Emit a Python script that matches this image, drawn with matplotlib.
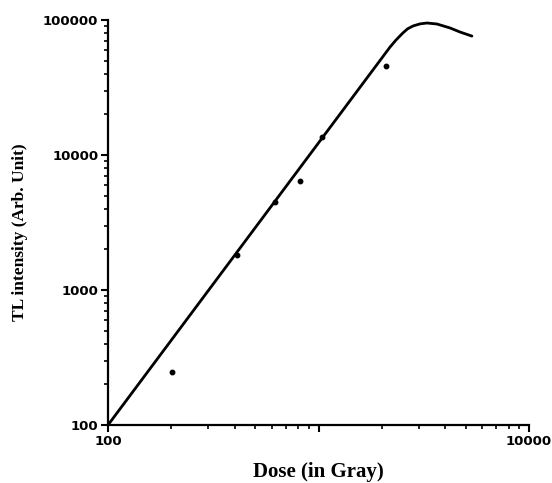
import matplotlib
matplotlib.use("Agg")
import matplotlib.pyplot as plt
from matplotlib.ticker import LogLocator, NullFormatter, FixedFormatter, FixedLocator

# measured points
dose_pts = [201, 410, 621, 817, 1039, 2093]
tl_pts = [247, 1815, 4490, 6410, 13600, 45600]

# fitted response curve
dose_fit = [100, 2188, 2335, 2518, 2650, 2812, 3030, 3273, 3653, 4215, 4700, 5355]
tl_fit = [100, 63100, 71100, 80200, 86000, 90300, 93500, 95000, 93400, 87300, 81500, 76000]

yticks = [100, 1000, 10000, 100000]

fig = plt.figure(figsize=(5.52, 4.83), dpi=100)
ax = fig.add_axes([0.1957, 0.1201, 0.7626, 0.8385])

ax.plot(dose_fit, tl_fit, color="black", lw=2.0, solid_capstyle="round",
        solid_joinstyle="round")
ax.plot(dose_pts, tl_pts, "o", color="black", ms=3.2)

ax.set_xscale("log")
ax.set_yscale("log")
ax.set_xlim(100, 10000)
ax.set_ylim(100, 100000)

ax.xaxis.set_major_locator(FixedLocator([100, 1000, 10000]))
ax.xaxis.set_major_formatter(FixedFormatter(["100", "", "10000"]))
ax.yaxis.set_major_locator(FixedLocator(yticks))
ax.yaxis.set_major_formatter(FixedFormatter([str(v) for v in yticks]))
ax.xaxis.set_minor_locator(LogLocator(base=10, subs=range(2, 10)))
ax.yaxis.set_minor_locator(LogLocator(base=10, subs=range(2, 10)))
ax.xaxis.set_minor_formatter(NullFormatter())
ax.yaxis.set_minor_formatter(NullFormatter())

for s in ["top", "right"]:
    ax.spines[s].set_visible(False)
for s in ["left", "bottom"]:
    ax.spines[s].set_linewidth(1.6)

ax.tick_params(which="major", length=5, width=1.5, direction="out", pad=2)
ax.tick_params(which="minor", length=3, width=1.2, direction="out")
for lab in ax.get_xticklabels() + ax.get_yticklabels():
    lab.set_fontfamily("DejaVu Sans")
    lab.set_fontweight("bold")
    lab.set_fontsize(9.5)

ax.set_xlabel("Dose (in Gray)", fontfamily="Liberation Serif", fontweight="bold",
              fontsize=15, labelpad=10)
ax.set_ylabel("TL intensity (Arb. Unit)", fontfamily="Liberation Serif",
              fontweight="bold", fontsize=12.5)
ax.yaxis.set_label_coords(-0.19, 0.475)

fig.savefig("out.png", dpi=100)
